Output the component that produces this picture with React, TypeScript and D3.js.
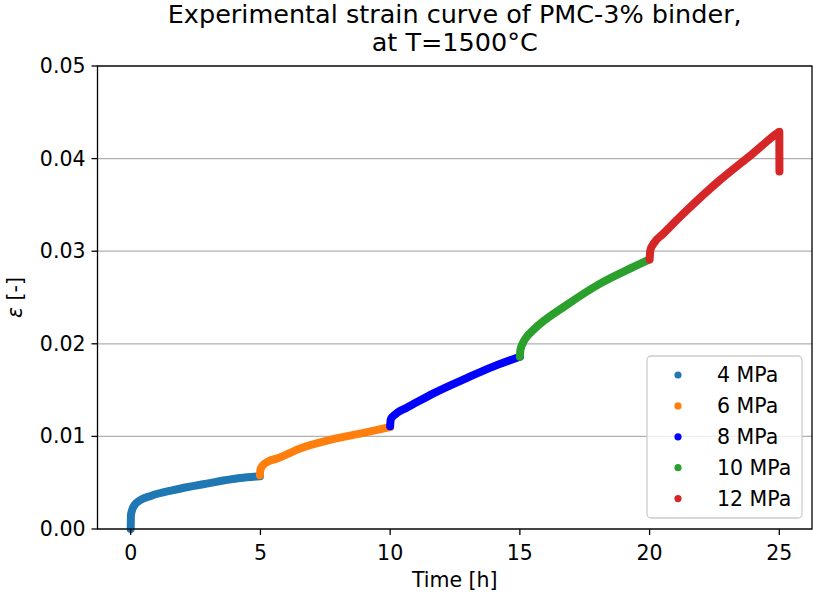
import React from "react";
import * as d3 from "d3";

// ---- data ----
const seriesLabels = ["4 MPa", "6 MPa", "8 MPa", "10 MPa", "12 MPa"];
const seriesColors = ["#1f77b4", "#ff7f0e", "#0000ff", "#2ca02c", "#d62728"];

const time4 = [0, 0.01, 0.06, 0.15, 0.36, 0.8, 1.64, 2.93, 4.21, 4.98];
const strain4 = [0, 0.0015, 0.0021, 0.0026, 0.0031, 0.0036, 0.0042, 0.0049, 0.0055, 0.0057];

const time6 = [4.98, 5.0, 5.1, 5.3, 5.63, 6.53, 7.8, 8.84, 10.0];
const strain6 = [0.0058, 0.0064, 0.0069, 0.0073, 0.0076, 0.0087, 0.0097, 0.0103, 0.0110];

const time8 = [10.0, 10.02, 10.12, 10.3, 10.64, 11.67, 12.95, 13.85, 15.0];
const strain8 = [0.0111, 0.0118, 0.0122, 0.0126, 0.0131, 0.01465, 0.0163, 0.0174, 0.0186];

const time10 = [15.0, 15.02, 15.12, 15.25, 15.52, 16.81, 18.09, 19.38, 19.98];
const strain10 = [0.0186, 0.0193, 0.0201, 0.0207, 0.0215, 0.0242, 0.0265, 0.0283, 0.0291];

const time12 = [20.0, 20.03, 20.15, 20.53, 21.43, 22.72, 24.0, 24.9, 25.0, 25.005];
const strain12 = [0.0291, 0.0301, 0.0308, 0.0319, 0.0344, 0.0377, 0.0406, 0.0427, 0.0429, 0.0386];

const seriesTimes = [time4, time6, time8, time10, time12];
const seriesStrains = [strain4, strain6, strain8, strain10, strain12];

const xTicks = [0, 5, 10, 15, 20, 25];
const yTicks = [0, 0.01, 0.02, 0.03, 0.04, 0.05];

const titleLines = ["Experimental strain curve of PMC-3% binder,", "at T=1500°C"];
const xLabel = "Time [h]";

export default function App() {
  const W = 813;
  const H = 594;
  const left = 97.5;
  const right = 812;
  const top = 66;
  const bottom = 529;

  const x = d3.scaleLinear().domain([-1.28, 26.26]).range([left, right]);
  const y = d3.scaleLinear().domain([0, 0.05]).range([bottom, top]);

  const line = d3
    .line<[number, number]>()
    .x((d) => x(d[0]))
    .y((d) => y(d[1]))
    .curve(d3.curveMonotoneX);

  const font = "DejaVu Sans, sans-serif";
  const fs = 20.5;

  return (
    <svg
      width={W}
      height={H}
      style={{ position: "absolute", left: 0, top: 0, background: "#fff" }}
      fontFamily={font}
    >
      <rect x={0} y={0} width={W} height={H} fill="#fff" />
      {/* grid */}
      {yTicks.map((t) => (
        <line
          key={"g" + t}
          x1={left}
          x2={right}
          y1={y(t)}
          y2={y(t)}
          stroke="#b0b0b0"
          strokeWidth={1.3}
        />
      ))}
      {/* data */}
      {seriesTimes.map((ts, i) => {
        const pts: [number, number][] = ts.map((t, j) => [t, seriesStrains[i][j]]);
        return (
          <path
            key={"s" + i}
            d={line(pts) || ""}
            fill="none"
            stroke={seriesColors[i]}
            strokeWidth={8}
            strokeLinecap="round"
            strokeLinejoin="round"
          />
        );
      })}
      {/* spines */}
      <rect
        x={left}
        y={top}
        width={right - left}
        height={bottom - top}
        fill="none"
        stroke="#000"
        strokeWidth={1.3}
      />
      {/* x ticks */}
      {xTicks.map((t) => (
        <g key={"xt" + t}>
          <line x1={x(t)} x2={x(t)} y1={bottom} y2={bottom + 6} stroke="#000" strokeWidth={1.3} />
          <text x={x(t)} y={bottom + 31} textAnchor="middle" fontSize={fs} fill="#000">
            {t}
          </text>
        </g>
      ))}
      {/* y ticks */}
      {yTicks.map((t) => (
        <g key={"yt" + t}>
          <line x1={left - 6} x2={left} y1={y(t)} y2={y(t)} stroke="#000" strokeWidth={1.3} />
          <text
            x={left - 12}
            y={y(t)}
            textAnchor="end"
            dominantBaseline="central"
            fontSize={fs}
            fill="#000"
          >
            {d3.format(".2f")(t)}
          </text>
        </g>
      ))}
      {/* axis labels */}
      <text x={(left + right) / 2} y={587} textAnchor="middle" fontSize={fs} fill="#000">
        {xLabel}
      </text>
      <text
        transform={`translate(22, ${(top + bottom) / 2}) rotate(-90)`}
        textAnchor="middle"
        fontSize={fs}
        fill="#000"
      >
        <tspan fontStyle="italic">ε</tspan> [-]
      </text>
      {/* title */}
      {titleLines.map((s, i) => (
        <text
          key={"t" + i}
          x={(left + right) / 2}
          y={23 + i * 28}
          textAnchor="middle"
          fontSize={25.5}
          fill="#000"
        >
          {s}
        </text>
      ))}
      {/* legend */}
      <g>
        <rect
          x={647}
          y={356}
          width={155}
          height={162}
          rx={4}
          fill="#fff"
          fillOpacity={0.8}
          stroke="#cccccc"
          strokeWidth={1.3}
        />
        {seriesLabels.map((lab, i) => (
          <g key={"l" + i}>
            <circle cx={678} cy={375 + i * 30.9} r={3.6} fill={seriesColors[i]} />
            <text
              x={717}
              y={375 + i * 30.9}
              dominantBaseline="central"
              fontSize={fs}
              fill="#000"
            >
              {lab}
            </text>
          </g>
        ))}
      </g>
    </svg>
  );
}
